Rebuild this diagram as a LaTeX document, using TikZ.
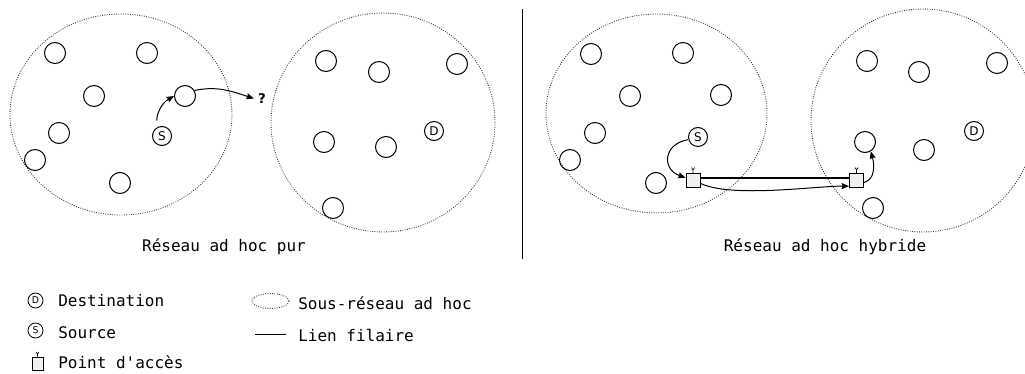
\documentclass[tikz,border=0pt]{standalone}
\usepackage{fontspec}
\newfontfamily\labelfont{DejaVu Sans Mono}
\newfontfamily\lettfont{DejaVu Sans}
\usetikzlibrary{arrows.meta}
\begin{document}
\begin{tikzpicture}[x=0.75pt,y=-0.75pt,
  host/.style={circle,draw,line width=0.75pt,minimum size=15.75pt,inner sep=0pt},
  endpt/.style={circle,draw,line width=0.75pt,minimum size=14.25pt,inner sep=0pt,font=\lettfont\fontsize{9}{10}\selectfont},
  legpt/.style={circle,draw,line width=0.6pt,minimum size=11.25pt,inner sep=0pt,font=\lettfont\fontsize{7}{8}\selectfont},
  subnet/.style={draw=black!80,line width=0.65pt,dash pattern=on 0.65pt off 1.1pt},
  apbox/.style={rectangle,draw,line width=0.75pt,fill=black!6,minimum size=10.5pt,inner sep=0pt},
  antenna/.style={line width=0.5pt},
  arr/.style={line width=0.75pt,-{Stealth[length=5.5pt,width=4.5pt,inset=0.6pt]}},
  lbl/.style={font=\labelfont\fontsize{12}{14}\selectfont,inner sep=0pt,anchor=base},
  leg/.style={font=\labelfont\fontsize{12}{14}\selectfont,inner sep=0pt,anchor=base west}
]
\clip (0,0) rectangle (1025,374);
\fill[white] (0,0) rectangle (1025,374);

% ---------- left panel : pure ad hoc ----------
\draw[subnet] (121,114.5) ellipse [x radius=83.25pt, y radius=75.4pt];
\draw[subnet] (383,122.5) ellipse [x radius=84pt, y radius=82.1pt];

\node[host] (a1) at (55,53) {};
\node[host] (a2) at (147,53) {};
\node[host] (a3) at (94,96) {};
\node[host] (a4) at (185,96) {};
\node[host] (a5) at (59,133) {};
\node[host] (a6) at (35,160) {};
\node[host] (a7) at (120,183) {};
\node[endpt] (sL) at (162,136) {S};

\node[host] (b1) at (326,61) {};
\node[host] (b2) at (379,72) {};
\node[host] (b3) at (457,64) {};
\node[host] (b4) at (324,142) {};
\node[host] (b5) at (386,147) {};
\node[endpt] (dL) at (434,131) {D};
\node[host] (b6) at (333,208) {};

\node[inner sep=0pt,font=\lettfont\bfseries\fontsize{10}{12}\selectfont] (q) at (262,98.5) {?};

\draw[arr,shorten <=5pt] (sL.120) to[out=92,in=210] (a4.west);
\draw[arr] (a4.30) to[out=12,in=162] ([xshift=-3pt]q.west);

\node[lbl] (t1) at (224,251.5) {Réseau ad hoc pur};

% ---------- divider ----------
\coordinate (vtop) at (522,9);
\coordinate (vbot) at (522,259);
\draw[line width=0.75pt] (vtop) -- (vbot);

% ---------- right panel : hybrid ad hoc ----------
\draw[subnet] (656.5,113.5) ellipse [x radius=82.9pt, y radius=74.6pt];
\draw[subnet] (923,120.5) ellipse [x radius=84pt, y radius=83.6pt];

\node[host] (c1) at (591,54) {};
\node[host] (c2) at (683,53) {};
\node[host] (c3) at (630,96) {};
\node[host] (c4) at (721,95) {};
\node[host] (c5) at (595,133) {};
\node[host] (c6) at (570,160) {};
\node[host] (c7) at (656,183) {};
\node[endpt] (sR) at (698,137) {S};

\node[host] (d1) at (867,61) {};
\node[host] (d2) at (919,72) {};
\node[host] (d3) at (997,63) {};
\node[host] (d4) at (865,142) {};
\node[host] (d5) at (924,150) {};
\node[endpt] (dR) at (974,131) {D};
\node[host] (d6) at (873,208) {};

\node[apbox] (ap1) at (693,180.5) {};
\node[apbox] (ap2) at (856.5,180.5) {};
\draw[antenna] (ap1.north) -- ++(0,-3) -- ++(-1.5,-2.5) ++(1.5,2.5) -- ++(1.5,-2.5);
\draw[antenna] (ap2.north) -- ++(0,-3) -- ++(-1.5,-2.5) ++(1.5,2.5) -- ++(1.5,-2.5);

\draw[line width=1pt] ([yshift=1.8pt]ap1.east) -- ([yshift=1.8pt]ap2.west);
\draw[arr] ([yshift=-2pt]sR.west) to[out=190,in=160,looseness=1.7] (ap1.160);
\draw[arr] ([yshift=-2.2pt]ap1.east) to[out=-25,in=180,looseness=0.6] ([yshift=-4.2pt]ap2.west);
\draw[arr] ([yshift=-1.5pt]ap2.east) to[out=15,in=-75] (d4.-58);

\node[lbl] (t2) at (825,252) {Réseau ad hoc hybride};

% ---------- legend ----------
\node[legpt] (lD) at (35.5,300.5) {D};
\node[leg] (lDt) at (58,306) {Destination};
\node[legpt] (lS) at (35.5,330.5) {S};
\node[leg] (lSt) at (58,338) {Source};
\node[apbox,minimum width=8.25pt,minimum height=9.75pt] (lAP) at (37.5,363.5) {};
\draw[antenna] (lAP.north) -- ++(0,-2.5) -- ++(-1.3,-2) ++(1.3,2) -- ++(1.3,-2);
\node[leg] (lAPt) at (58,368) {Point d'accès};

\draw[subnet] (270.5,301) ellipse [x radius=13.9pt, y radius=5.6pt];
\node[leg] (lEt) at (298,310) {Sous-réseau ad hoc};
\coordinate (lw1) at (255,334.5);
\coordinate (lw2) at (286,334.5);
\draw[line width=0.75pt] (lw1) -- (lw2);
\node[leg] (lWt) at (298,341) {Lien filaire};
\end{tikzpicture}
\end{document}
